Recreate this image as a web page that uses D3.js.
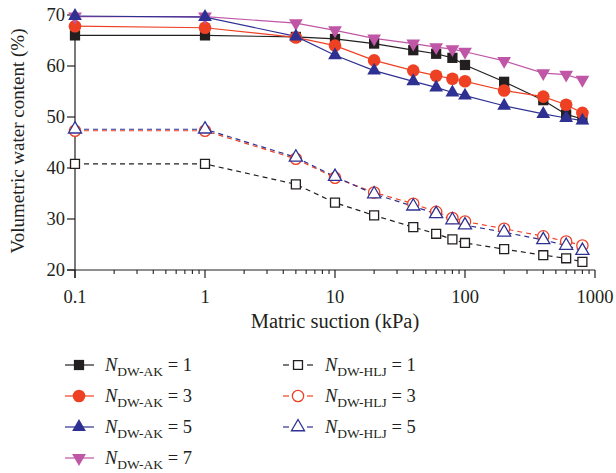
<!DOCTYPE html>
<html>
<head>
<meta charset="utf-8">
<script src="https://cdn.jsdelivr.net/npm/d3@7"></script>
<style>
  body { margin: 0; background: #fff; }
</style>
</head>
<body>
<script>
// matric suction (kPa)
const suction = [0.1, 1, 5, 10, 20, 40, 60, 80, 100, 200, 400, 600, 800];

// volumetric water content (%)
const ak1 = [66.0, 66.0, 65.7, 65.3, 64.4, 63.1, 62.4, 61.6, 60.2, 56.9, 53.3, 50.5, 49.6];
const ak3 = [67.8, 67.5, 65.6, 64.0, 61.1, 59.1, 58.1, 57.5, 57.0, 55.2, 54.0, 52.4, 50.8];
const ak5 = [69.8, 69.6, 65.8, 62.1, 59.1, 57.0, 55.8, 54.8, 54.2, 52.2, 50.6, 49.8, 49.3];
const ak7 = [69.7, 69.7, 68.4, 67.0, 65.4, 64.4, 63.7, 63.3, 62.8, 61.0, 58.6, 58.3, 57.3];
const hlj1 = [40.8, 40.8, 36.8, 33.2, 30.7, 28.4, 27.1, 26.0, 25.3, 24.1, 22.9, 22.3, 21.6];
const hlj3 = [47.3, 47.3, 41.8, 38.1, 35.2, 33.0, 31.4, 30.2, 29.5, 28.1, 26.6, 25.6, 24.8];
const hlj5 = [47.6, 47.6, 42.1, 38.3, 34.9, 32.5, 31.0, 29.8, 28.8, 27.4, 25.9, 24.8, 23.8];

const xTicks = [0.1, 1, 10, 100, 1000];
const xTickLabels = ["0.1", "1", "10", "100", "1000"];
const yTicks = [20, 30, 40, 50, 60, 70];

const ink = "#231f20";
const font = "'Liberation Serif', 'DejaVu Serif', serif";
const series = [
    {name: "AK", n: 1, values: ak1, color: ink, shape: "square", filled: true},
    {name: "AK", n: 3, values: ak3, color: "#ee4124", shape: "circle", filled: true},
    {name: "AK", n: 7, values: ak7, color: "#bf56a6", shape: "down", filled: true},
    {name: "AK", n: 5, values: ak5, color: "#2e3192", shape: "up", filled: true},
    {name: "HLJ", n: 1, values: hlj1, color: ink, shape: "square", filled: false},
    {name: "HLJ", n: 3, values: hlj3, color: "#ee4124", shape: "circle", filled: false},
    {name: "HLJ", n: 5, values: hlj5, color: "#2e3192", shape: "up", filled: false}
];

const svg = d3.select("body")
    .append("svg")
    .attr("width", 616)
    .attr("height", 473)
    .attr("font-family", font)
    .style("font-family", font);

const x = d3.scaleLog().domain([0.1, 1000]).range([75, 595]);
const y = d3.scaleLinear().domain([20, 70]).range([270, 15]);

// Рисуем маркер
function marker(sel, s) {
    let type, size, rot = 0;
    if (s.shape === "square") { type = d3.symbolSquare; size = s.filled ? 105 : 80; }
    else if (s.shape === "circle") { type = d3.symbolCircle; size = s.filled ? 125 : 100; }
    else { type = d3.symbolTriangle; size = s.filled ? 82 : 74; rot = s.shape === "down" ? 180 : 0; }
    sel.attr("d", d3.symbol().type(type).size(size)())
        .attr("fill", s.filled ? s.color : "#fff")
        .attr("stroke", s.filled ? "none" : s.color)
        .attr("stroke-width", 1.3);
    return rot;
}

// x axis
const xAxisG = svg.append("g").attr("transform", "translate(0,270)");
xAxisG.append("line").attr("x1", 67).attr("x2", 595).attr("stroke", ink).attr("stroke-width", 1.2);
const minor = [];
for (let e = -1; e < 3; e++) for (let k = 2; k < 10; k++) minor.push(k * Math.pow(10, e));
xAxisG.selectAll(".minor").data(minor).enter().append("line")
    .attr("x1", d => x(d)).attr("x2", d => x(d))
    .attr("y1", 0).attr("y2", 4)
    .attr("stroke", ink).attr("stroke-width", 1.1);
xAxisG.selectAll(".major").data(xTicks).enter().append("line")
    .attr("x1", d => x(d)).attr("x2", d => x(d))
    .attr("y1", 0).attr("y2", 8)
    .attr("stroke", ink).attr("stroke-width", 1.2);
xAxisG.selectAll(".xlab").data(xTicks).enter().append("text")
    .attr("x", d => x(d)).attr("y", 33)
    .attr("text-anchor", "middle")
    .attr("font-size", "18.5px")
    .attr("fill", ink)
    .text((d, i) => xTickLabels[i]);

// y axis
const yAxisG = svg.append("g").attr("transform", "translate(75,0)");
yAxisG.append("line").attr("y1", y(70)).attr("y2", 278).attr("stroke", ink).attr("stroke-width", 1.2);
yAxisG.selectAll(".ytick").data(yTicks).enter().append("line")
    .attr("x1", -8).attr("x2", 0)
    .attr("y1", d => y(d)).attr("y2", d => y(d))
    .attr("stroke", ink).attr("stroke-width", 1.2);
yAxisG.selectAll(".ylab").data(yTicks).enter().append("text")
    .attr("x", -10).attr("y", d => y(d) + 6)
    .attr("text-anchor", "end")
    .attr("font-size", "18.5px")
    .attr("fill", ink)
    .text(d => d);

svg.append("text")
    .attr("x", 335).attr("y", 328)
    .attr("text-anchor", "middle")
    .attr("font-size", "20.5px")
    .attr("fill", ink)
    .text("Matric suction (kPa)");
svg.append("text")
    .attr("transform", "translate(24,141) rotate(-90)")
    .attr("text-anchor", "middle")
    .attr("font-size", "19px")
    .attr("fill", ink)
    .text("Volumetric water content (%)");

// lines and markers
const line = d3.line().x(d => x(d[0])).y(d => y(d[1]));
const drawOrder = [4, 5, 6, 0, 1, 2, 3];
drawOrder.forEach(i => {
    const s = series[i];
    const pts = suction.map((v, j) => [v, s.values[j]]);
    svg.append("path")
        .attr("d", line(pts))
        .attr("fill", "none")
        .attr("stroke", s.color)
        .attr("stroke-width", 1.2)
        .attr("stroke-dasharray", s.filled ? null : "5,4");
});
drawOrder.forEach(i => {
    const s = series[i];
    const pts = suction.map((v, j) => [v, s.values[j]]);
    svg.selectAll(null).data(pts).enter().append("path")
        .each(function (d) {
            const rot = marker(d3.select(this), s);
            d3.select(this).attr("transform", `translate(${x(d[0])},${y(d[1])}) rotate(${rot})`);
        });
});

// legend
const legendOrder = [0, 1, 3, 2, 4, 5, 6];
legendOrder.forEach((i, k) => {
    const s = series[i];
    const col = s.filled ? 0 : 1;
    const row = s.filled ? k : k - 4;
    const lx = col === 0 ? 65 : 283;
    const ly = 365 + row * 31;
    const g = svg.append("g").attr("transform", `translate(${lx},${ly})`);
    if (s.filled) {
        g.append("line").attr("x1", 0).attr("x2", 29).attr("stroke", s.color).attr("stroke-width", 1.2);
    } else {
        g.append("line").attr("x1", 0).attr("x2", 6).attr("stroke", s.color).attr("stroke-width", 1.2);
        g.append("line").attr("x1", 24).attr("x2", 30).attr("stroke", s.color).attr("stroke-width", 1.2);
    }
    const m = g.append("path");
    const rot = marker(m, s);
    m.attr("transform", `translate(${s.filled ? 14 : 15},0) rotate(${rot})`);
    const t = g.append("text").attr("x", s.filled ? 40 : 42).attr("y", 6)
        .attr("font-size", "18.5px").attr("fill", ink);
    t.append("tspan").attr("font-style", "italic").text("N");
    t.append("tspan").attr("font-size", "13.5px").attr("dy", 5).text("DW-" + s.name);
    t.append("tspan").attr("dy", -5).text(" = " + s.n);
});
</script>
</body>
</html>
